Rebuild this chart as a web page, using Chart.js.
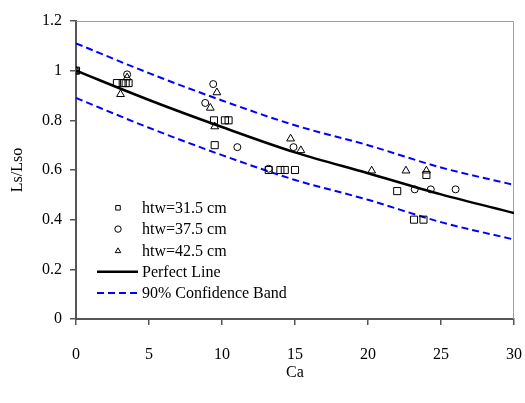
<!DOCTYPE html>
<html>
<head>
<meta charset="utf-8">
<script src="https://cdn.jsdelivr.net/npm/chart.js@4/dist/chart.umd.min.js"></script>
<style>
  html, body { margin: 0; padding: 0; background: #fff; }
  #wrap { width: 525px; height: 403px; }
</style>
</head>
<body>
<div id="wrap"><canvas id="grafico"></canvas></div>
<script>
const sqX = [0, 2.8, 3.2, 3.4, 3.6, 9.45, 10.2, 10.45, 9.5, 13.2, 14.0, 14.3, 15.0, 22.0, 24.0, 23.15, 23.8];
const sqY = [1, 0.95, 0.95, 0.95, 0.95, 0.80, 0.80, 0.80, 0.70, 0.60, 0.60, 0.60, 0.60, 0.515, 0.58, 0.40, 0.40];

const ciX = [0, 3.5, 9.4, 8.85, 11.05, 14.9, 13.2, 23.2, 24.3, 26.0];
const ciY = [1, 0.985, 0.946, 0.87, 0.692, 0.692, 0.605, 0.522, 0.522, 0.522];

const trX = [0, 3.05, 3.5, 9.65, 9.2, 9.5, 14.7, 15.4, 20.25, 22.6, 24.0];
const trY = [1, 0.905, 0.972, 0.912, 0.85, 0.775, 0.726, 0.679, 0.597, 0.597, 0.597];

// perfect line and 90% band
const lineX = [0, 5, 10, 15, 20, 25, 30];
const perfect = [1.0, 0.882, 0.773, 0.671, 0.587, 0.502, 0.427];
const bandUpper = [1.11, 0.99, 0.88, 0.78, 0.70, 0.61, 0.54];
const bandLower = [0.89, 0.77, 0.66, 0.56, 0.48, 0.39, 0.32];

const labels = ['htw=31.5 cm', 'htw=37.5 cm', 'htw=42.5 cm', 'Perfect Line', '90% Confidence Band'];

function pts(xs, ys) {
  return xs.map(function (x, i) { return { x: x, y: ys[i] }; });
}

const fonte = { family: "'Liberation Serif', 'DejaVu Serif', serif", size: 16 };

function marker(ctx, style, x, y, r) {
  ctx.beginPath();
  if (style === 'rect') {
    const s = r * Math.SQRT1_2;
    ctx.rect(x - s, y - s, 2 * s, 2 * s);
  } else if (style === 'triangle') {
    for (let k = 0; k < 3; k++) {
      const a = -Math.PI / 2 + k * 2 * Math.PI / 3;
      const px = x + Math.cos(a) * r, py = y + Math.sin(a) * r + r * 0.2;
      if (k === 0) ctx.moveTo(px, py); else ctx.lineTo(px, py);
    }
    ctx.closePath();
  } else {
    ctx.arc(x, y, r, 0, Math.PI * 2);
  }
  ctx.stroke();
}

// legend inside the plot, bottom left
const legendaDentro = {
  id: 'legendaDentro',
  afterDraw(chart) {
    const ctx = chart.ctx;
    const area = chart.chartArea;
    const x0 = area.left + 21;
    const itens = chart.data.datasets.filter(function (ds) { return ds.label; });
    const n = itens.length;
    ctx.save();
    ctx.font = "16px 'Liberation Serif', serif";
    ctx.fillStyle = '#000';
    ctx.textBaseline = 'middle';
    itens.forEach(function (ds, i) {
      const y = area.bottom - 26 - (n - 1 - i) * 21.3;
      ctx.strokeStyle = ds.borderColor;
      if (ds.showLine) {
        ctx.lineWidth = ds.borderWidth;
        ctx.setLineDash(ds.borderDash || []);
        ctx.beginPath();
        ctx.moveTo(x0, y);
        ctx.lineTo(x0 + 41, y);
        ctx.stroke();
        ctx.setLineDash([]);
      } else {
        ctx.lineWidth = 1;
        marker(ctx, ds.pointStyle, x0 + 21, y, 3.2);
      }
      ctx.fillText(ds.label, x0 + 45, y + 1);
    });
    ctx.restore();
  }
};

// light frame on top and right
const moldura = {
  id: 'moldura',
  beforeDatasetsDraw(chart) {
    const ctx = chart.ctx;
    const a = chart.chartArea;
    ctx.save();
    ctx.strokeStyle = '#a0a0a0';
    ctx.lineWidth = 1;
    ctx.beginPath();
    ctx.moveTo(a.left, a.top + 0.5);
    ctx.lineTo(a.right - 0.5, a.top + 0.5);
    ctx.lineTo(a.right - 0.5, a.bottom);
    ctx.stroke();
    ctx.restore();
  }
};

document.addEventListener("DOMContentLoaded", function () {
  new Chart(document.getElementById("grafico"), {
    type: 'scatter',
    data: {
      datasets: [
        {
          label: labels[0], data: pts(sqX, sqY), pointStyle: 'rect',
          pointRadius: 5, borderColor: '#000', backgroundColor: 'rgba(0,0,0,0)', borderWidth: 1
        },
        {
          label: labels[1], data: pts(ciX, ciY), pointStyle: 'circle',
          pointRadius: 3.5, borderColor: '#000', backgroundColor: 'rgba(0,0,0,0)', borderWidth: 1
        },
        {
          label: labels[2], data: pts(trX, trY), pointStyle: 'triangle',
          pointRadius: 4.5, borderColor: '#000', backgroundColor: 'rgba(0,0,0,0)', borderWidth: 1
        },
        {
          label: labels[3], data: pts(lineX, perfect), showLine: true, pointRadius: 0,
          borderColor: '#000', borderWidth: 2.5, cubicInterpolationMode: 'monotone'
        },
        {
          label: labels[4], data: pts(lineX, bandUpper), showLine: true, pointRadius: 0,
          borderColor: '#0000ff', borderWidth: 2, borderDash: [7, 4], cubicInterpolationMode: 'monotone'
        },
        {
          label: '', data: pts(lineX, bandLower), showLine: true, pointRadius: 0,
          borderColor: '#0000ff', borderWidth: 2, borderDash: [7, 4], cubicInterpolationMode: 'monotone'
        }
      ]
    },
    options: {
      responsive: true,
      maintainAspectRatio: false,
      animation: false,
      layout: { padding: { left: 0, top: 21, right: 11, bottom: 0 } },
      plugins: {
        legend: { display: false },
        tooltip: { enabled: false }
      },
      scales: {
        x: {
          type: 'linear', min: 0, max: 30,
          ticks: { stepSize: 5, color: '#000', font: fonte, padding: 20, maxRotation: 0 },
          grid: { drawOnChartArea: false, tickLength: 6, color: '#555', lineWidth: 1.5 },
          border: { display: true, color: '#555', width: 2 },
          title: { display: true, text: 'Ca', color: '#000', font: fonte, padding: { top: 0, bottom: 21 } },
          afterFit: function (s) { s.height = 84; s.paddingLeft = 0; s.paddingRight = 0; }
        },
        y: {
          type: 'linear', min: 0, max: 1.2,
          ticks: {
            stepSize: 0.2, color: '#000', font: fonte, padding: 8,
            callback: function (v) { return String(Number(v.toFixed(1))); }
          },
          grid: { drawOnChartArea: false, tickLength: 6, color: '#555', lineWidth: 1.5 },
          border: { display: true, color: '#555', width: 2 },
          title: { display: true, text: 'Ls/Lso', color: '#000', font: fonte, padding: { top: 8, bottom: 0 } },
          afterFit: function (s) { s.width = 76; s.paddingTop = 0; s.paddingBottom = 0; }
        }
      }
    },
    plugins: [moldura, legendaDentro]
  });
});
</script>
</body>
</html>
